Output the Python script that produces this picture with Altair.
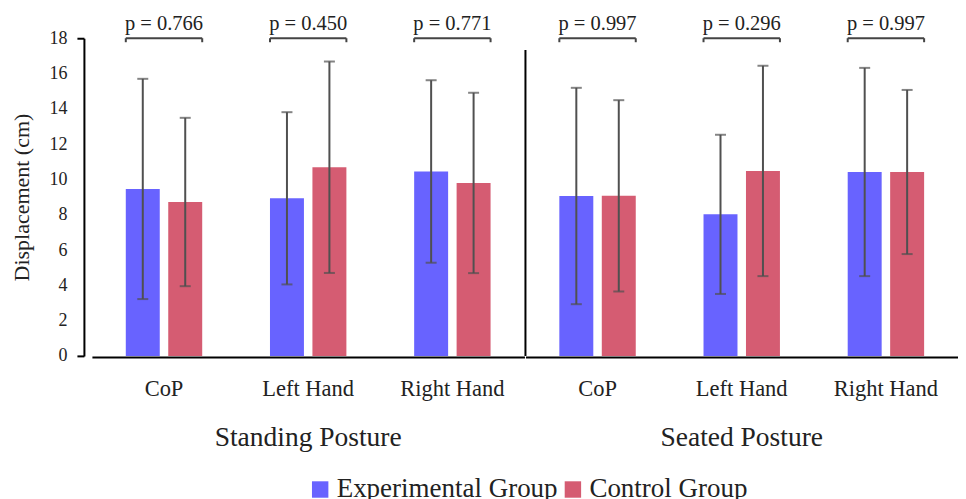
import altair as alt
import pandas as pd

postures = ["Standing Posture", "Seated Posture"]
categories = ["CoP", "Left Hand", "Right Hand"]
groups = ["Experimental Group", "Control Group"]
colors = ["#6863FF", "#D55C72"]

# order: Standing CoP, LH, RH, Seated CoP, LH, RH
exp_mean = [9.46, 8.93, 10.45, 9.06, 8.02, 10.42]
exp_sd = [6.24, 4.88, 5.17, 6.13, 4.51, 5.90]
ctrl_mean = [8.72, 10.69, 9.80, 9.07, 10.48, 10.42]
ctrl_sd = [4.77, 5.99, 5.11, 5.42, 5.96, 4.65]
p_values = ["0.766", "0.450", "0.771", "0.997", "0.296", "0.997"]

rows = []
i = 0
for pst in postures:
    for cat in categories:
        for g, m, s in ((groups[0], exp_mean[i], exp_sd[i]), (groups[1], ctrl_mean[i], ctrl_sd[i])):
            rows.append({"posture": pst, "category": cat, "group": g, "mean": m,
                         "lo": m - s, "hi": m + s, "plabel": "p = " + p_values[i]})
        i += 1
df = pd.DataFrame(rows)

FONT = "Liberation Serif"
TXT = "#222222"
ERR = "#505050"

x_axis = alt.Axis(title=None, labelAngle=0, ticks=False, tickSize=0, labelPadding=21,
                  labelFontSize=22.5, labelFont=FONT, labelColor=TXT,
                  domainColor="black", domainWidth=2)
x_scale = alt.Scale(paddingInner=0.47, paddingOuter=0.235)


def X(**kw):
    return alt.X("category:N", sort=categories, scale=x_scale, axis=x_axis, **kw)


xo = alt.XOffset("group:N", sort=groups, scale=alt.Scale(paddingInner=0.2, paddingOuter=0))

y_axis = alt.Axis(title="Displacement (cm)", titleFont=FONT, titleFontSize=22,
                  titleFontWeight="normal", titleColor=TXT, titlePadding=15,
                  values=list(range(0, 19, 2)), labelFontSize=18, labelFont=FONT,
                  labelColor=TXT, labelPadding=10, labelOverlap=False, labelBound=False,
                  tickSize=7, tickWidth=2, tickColor="black",
                  tickOpacity={"condition": {"test": "datum.value == 0 || datum.value == 18",
                                             "value": 1}, "value": 0},
                  domainColor="black", domainWidth=2, offset=8, grid=False)
y_scale = alt.Scale(domain=[0, 18], nice=False)


def Y(field=None, **kw):
    if field is None:
        return alt.Y(scale=y_scale, axis=y_axis, **kw)
    return alt.Y(field, scale=y_scale, axis=y_axis, title="Displacement (cm)", **kw)


bars = alt.Chart().mark_bar().encode(
    x=X(),
    xOffset=xo,
    y=Y("mean:Q"),
    color=alt.Color("group:N", sort=groups,
                    scale=alt.Scale(domain=groups, range=colors),
                    legend=alt.Legend(orient="none", legendX=215, legendY=438,
                                      direction="horizontal", title=None,
                                      symbolType="square", symbolSize=270,
                                      symbolStrokeWidth=0, labelFontSize=27,
                                      labelFont=FONT, labelColor=TXT, columnPadding=1,
                                      labelOffset=3, labelLimit=400)),
)

err = alt.Chart().mark_rule(color=ERR, strokeWidth=2).encode(
    x=X(), xOffset=xo, y=Y("lo:Q"), y2="hi:Q")
cap_lo = alt.Chart().mark_tick(orient="horizontal", size=11, thickness=2, color=ERR).encode(
    x=X(), xOffset=xo, y=Y("lo:Q"))
cap_hi = alt.Chart().mark_tick(orient="horizontal", size=11, thickness=2, color=ERR).encode(
    x=X(), xOffset=xo, y=Y("hi:Q"))

one = alt.datum.group == groups[0]
bracket = alt.Chart().transform_filter(one).mark_rule(color="#444444", strokeWidth=2).encode(
    x=X(bandPosition=0), x2=alt.X2("category:N", bandPosition=1),
    y=Y(datum=18))
end_l = alt.Chart().transform_filter(one).mark_rule(color="#444444", strokeWidth=2,
                                                     y2Offset=4).encode(
    x=X(bandPosition=0), y=Y(datum=18), y2=alt.datum(18))
end_r = alt.Chart().transform_filter(one).mark_rule(color="#444444", strokeWidth=2,
                                                     y2Offset=4).encode(
    x=X(bandPosition=1), y=Y(datum=18), y2=alt.datum(18))
ptext = alt.Chart().transform_filter(one).mark_text(
    dy=-8, baseline="alphabetic", fontSize=20.5, font=FONT, color=TXT).encode(
    x=X(), y=Y(datum=18), text="plabel:N")

divider = alt.Chart().transform_filter(
    (alt.datum.posture == postures[1]) & (alt.datum.category == categories[0]) & one
).mark_rule(color="black", strokeWidth=2).encode(
    x=alt.value(0), y=Y(datum=17.34), y2=alt.datum(0))

layered = alt.layer(bars, err, cap_lo, cap_hi, bracket, end_l, end_r, ptext, divider,
                    data=df).properties(width=433, height=318)

chart = layered.facet(
    column=alt.Column("posture:N", sort=postures,
                      header=alt.Header(title=None, labelOrient="bottom", labelFontSize=27.5,
                                        labelFont=FONT, labelColor=TXT, labelPadding=24)),
    spacing=0,
).properties(
    padding={"left": 3, "top": 6, "right": 0, "bottom": 0}
).configure(background="white").configure_view(stroke=None, strokeWidth=0)

chart.save("out.html", embed_options={"renderer": "svg", "actions": False})
